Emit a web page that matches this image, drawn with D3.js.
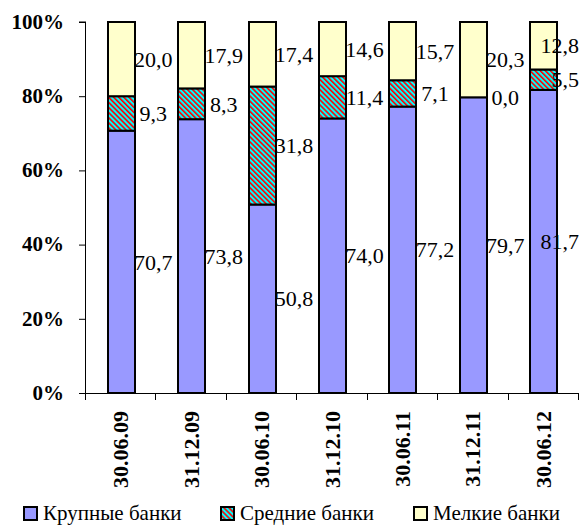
<!DOCTYPE html>
<html><head><meta charset="utf-8">
<script src="https://cdn.jsdelivr.net/npm/d3@7"></script>
<style>body{margin:0;background:#fff}
svg text{font-family:"Liberation Serif","Times New Roman",serif !important;}
</style>
</head><body>
<svg id="c" width="580" height="525" font-family="Liberation Serif"></svg>
<script>
const categories = ["30.06.09","31.12.09","30.06.10","31.12.10","30.06.11","31.12.11","30.06.12"];
const large  = [70.7, 73.8, 50.8, 74.0, 77.2, 79.7, 81.7];
const medium = [9.3, 8.3, 31.8, 11.4, 7.1, 0.0, 5.5];
const small  = [20.0, 17.9, 17.4, 14.6, 15.7, 20.3, 12.8];
const seriesNames = ["Крупные банки","Средние банки","Мелкие банки"];
const yTicks = [0,20,40,60,80,100];

const svg = d3.select("#c");
const FF = "Liberation Serif";

const defs = svg.append("defs");
const pat = defs.append("pattern").attr("id","hatch").attr("patternUnits","userSpaceOnUse")
  .attr("width",3.6).attr("height",4).attr("patternTransform","rotate(-45)");
pat.append("rect").attr("width",3.6).attr("height",4).attr("fill","#00FFFF");
pat.append("rect").attr("width",1.6).attr("height",4).attr("fill","#FF0000");

const fills = ["#9999FF","url(#hatch)","#FFFFCC"];

const x = d3.scaleBand().domain(categories).range([86,579]).padding(0);
const y = d3.scaleLinear().domain([0,100]).range([393,22]);
const barW = Math.round(x.bandwidth()*0.39);

const rows = categories.map((c,i)=>({cat:c, large:large[i], medium:medium[i], small:small[i]}));
const stack = d3.stack().keys(["large","medium","small"])(rows);

// y axis (lines via d3 axis, labels as root-level texts)
const yAxis = svg.append("g").attr("transform","translate(86,0)")
  .call(d3.axisLeft(y).tickValues(yTicks).tickFormat("").tickSize(7));
yAxis.select(".domain").attr("stroke","#000").attr("d","M-0.5,"+y(0)+"V"+y(100)+"M-7,"+y(100)+"H0");
yAxis.selectAll("line").attr("stroke","#000");
yAxis.selectAll("text").remove();
yTicks.forEach(t=>{
  svg.append("text").attr("x",64).attr("y",y(t)).attr("dy","0.32em").attr("text-anchor","end")
    .attr("font-family",FF).attr("font-weight","bold").attr("font-size",21).text(t+"%");
});

// x axis
svg.append("line").attr("x1",86).attr("x2",579).attr("y1",y(0)+0.5).attr("y2",y(0)+0.5).attr("stroke","#000");
const bounds = categories.map(c=>x(c)).concat([x(categories[categories.length-1])+x.bandwidth()]);
bounds.forEach(b=>{
  svg.append("line").attr("x1",Math.round(b)-0.5).attr("x2",Math.round(b)-0.5)
    .attr("y1",y(0)).attr("y2",y(0)+7).attr("stroke","#000");
});
categories.forEach(c=>{
  svg.append("text")
    .attr("transform",`translate(${x(c)+x.bandwidth()/2},411) rotate(-90)`)
    .attr("text-anchor","end").attr("dy","0.32em")
    .attr("font-family",FF).attr("font-weight","bold").attr("font-size",22).text(c);
});

// bars
const bx = c => Math.round(x(c)+x.bandwidth()/2-barW/2);
stack.forEach((s,si)=>{
  s.forEach(d=>{
    svg.append("rect")
      .attr("x",bx(d.data.cat)).attr("width",barW)
      .attr("y",y(d[1])).attr("height",y(d[0])-y(d[1]))
      .attr("fill",fills[si]).attr("stroke","#000").attr("stroke-width",2);
  });
});

// labels
const fs = 22;
stack.forEach((s,si)=>{
  s.forEach(d=>{
    const t = d3.format(".1f")(d[1]-d[0]).replace(".",",");
    const w = (t.length-1)*0.5*fs + 0.25*fs;
    let cx = x(d.data.cat)+x.bandwidth()/2+32;
    if (cx + w/2 > 579) cx = 579 - w/2;
    svg.append("text").attr("x",cx).attr("y",y((d[0]+d[1])/2)).attr("dy","0.35em")
      .attr("text-anchor","middle").attr("font-family",FF).attr("font-size",fs).text(t);
  });
});

// legend
const legX = [24,221,414];
seriesNames.forEach((n,i)=>{
  svg.append("rect").attr("x",legX[i]).attr("y",507).attr("width",13).attr("height",13)
    .attr("fill",fills[i]).attr("stroke","#000").attr("stroke-width",2);
  svg.append("text").attr("x",legX[i]+19).attr("y",520)
    .attr("font-family",FF).attr("font-size",21).text(n);
});
</script>
</body></html>
